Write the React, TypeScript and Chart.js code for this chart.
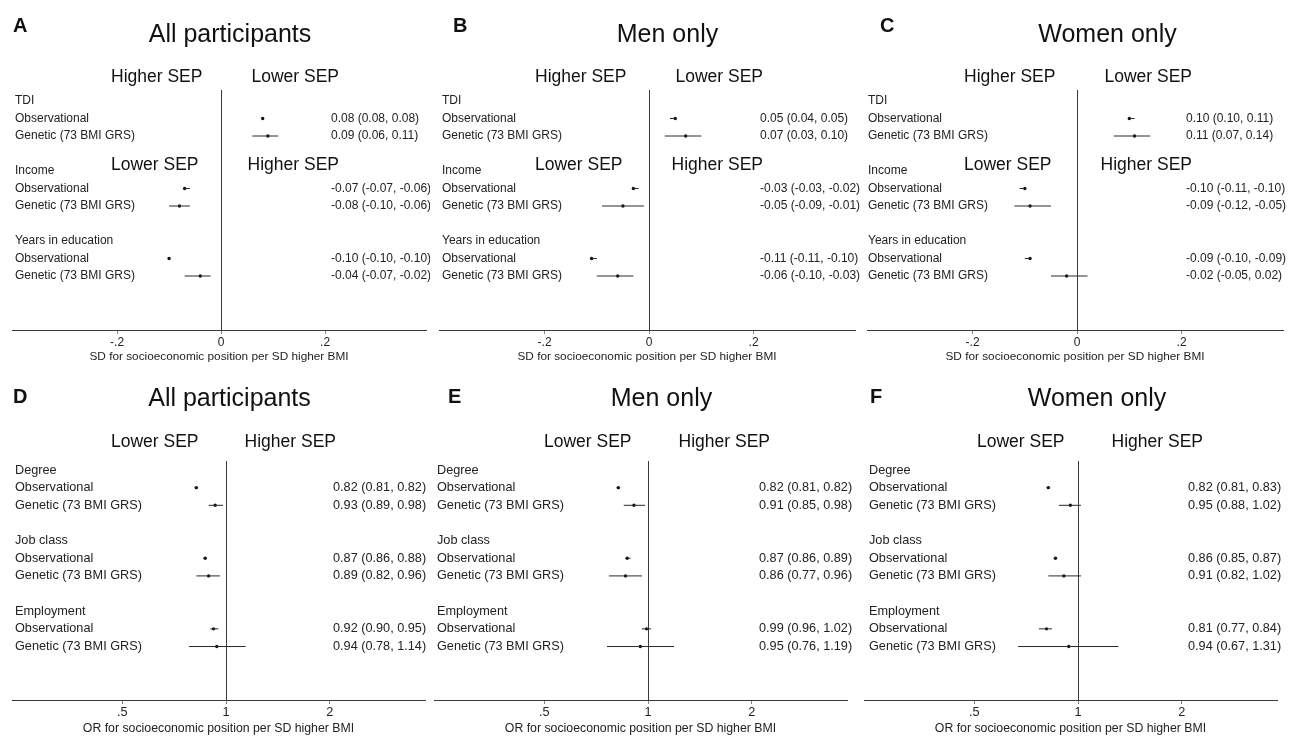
import React, { useEffect, useRef } from "react";
import { Chart, registerables } from "chart.js";

Chart.register(...registerables);

// ---------- data ----------
const PANEL_LETTERS = ["A", "B", "C", "D", "E", "F"];
const PANEL_TITLES = ["All participants", "Men only", "Women only", "All participants", "Men only", "Women only"];
const TOP_CATEGORIES = ["TDI", "Income", "Years in education"];
const BOTTOM_CATEGORIES = ["Degree", "Job class", "Employment"];
const METHODS = ["Observational", "Genetic (73 BMI GRS)"];

const TOP_TICKS = [-0.2, 0, 0.2];
const TOP_TICK_LABELS = ["-.2", "0", ".2"];
const BOTTOM_TICKS = [0.5, 1, 2];
const BOTTOM_TICK_LABELS = [".5", "1", "2"];
const TOP_AXIS_TITLE = "SD for socioeconomic position per SD higher BMI";
const BOTTOM_AXIS_TITLE = "OR for socioeconomic position per SD higher BMI";
const TOP_HEADERS = ["Higher SEP", "Lower SEP"];
const TOP_MID_HEADERS = ["Lower SEP", "Higher SEP"];
const BOTTOM_HEADERS = ["Lower SEP", "Higher SEP"];

// order: cat1 obs, cat1 gen, cat2 obs, cat2 gen, cat3 obs, cat3 gen
const A_EST = [0.08, 0.09, -0.07, -0.08, -0.1, -0.04];
const A_LO = [0.08, 0.06, -0.07, -0.1, -0.1, -0.07];
const A_HI = [0.08, 0.11, -0.06, -0.06, -0.1, -0.02];

const B_EST = [0.05, 0.07, -0.03, -0.05, -0.11, -0.06];
const B_LO = [0.04, 0.03, -0.03, -0.09, -0.11, -0.1];
const B_HI = [0.05, 0.1, -0.02, -0.01, -0.1, -0.03];

const C_EST = [0.1, 0.11, -0.1, -0.09, -0.09, -0.02];
const C_LO = [0.1, 0.07, -0.11, -0.12, -0.1, -0.05];
const C_HI = [0.11, 0.14, -0.1, -0.05, -0.09, 0.02];

const D_EST = [0.82, 0.93, 0.87, 0.89, 0.92, 0.94];
const D_LO = [0.81, 0.89, 0.86, 0.82, 0.9, 0.78];
const D_HI = [0.82, 0.98, 0.88, 0.96, 0.95, 1.14];

const E_EST = [0.82, 0.91, 0.87, 0.86, 0.99, 0.95];
const E_LO = [0.81, 0.85, 0.86, 0.77, 0.96, 0.76];
const E_HI = [0.82, 0.98, 0.89, 0.96, 1.02, 1.19];

const F_EST = [0.82, 0.95, 0.86, 0.91, 0.81, 0.94];
const F_LO = [0.81, 0.88, 0.85, 0.82, 0.77, 0.67];
const F_HI = [0.83, 1.02, 0.87, 1.02, 0.84, 1.31];

const PANEL_DATA = [
  { est: A_EST, lo: A_LO, hi: A_HI },
  { est: B_EST, lo: B_LO, hi: B_HI },
  { est: C_EST, lo: C_LO, hi: C_HI },
  { est: D_EST, lo: D_LO, hi: D_HI },
  { est: E_EST, lo: E_LO, hi: E_HI },
  { est: F_EST, lo: F_LO, hi: F_HI },
];

// ---------- layout / style ----------
const FONT = "'Liberation Sans', Arial, Helvetica, sans-serif";
const TOP_X_RANGE = { min: -0.402, max: 0.394 };
const BOTTOM_X_RANGE = { min: 0.239, max: 3.784 };

const LAYOUT = [
  { x: 0, y: 0, w: 430, h: 368, padL: 12, padR: 2, padT: 90, axisH: 38, yMin: -0.629, yMax: 13.086, letterX: 13, letterY: 32, titleX: 230, titleY: 41.5, hdrL: 111, hdrR: 339, hdrY: 81.5, midY: 169.5, labelX: 15, valueX: 331, fs: 12, titlePad: 4 },
  { x: 430, y: 0, w: 430, h: 368, padL: 9, padR: 5, padT: 90, axisH: 38, yMin: -0.629, yMax: 13.086, letterX: 23, letterY: 32, titleX: 237.5, titleY: 41.5, hdrL: 105, hdrR: 333, hdrY: 81.5, midY: 169.5, labelX: 12, valueX: 330, fs: 12, titlePad: 4 },
  { x: 860, y: 0, w: 430, h: 368, padL: 7, padR: 7, padT: 90, axisH: 38, yMin: -0.629, yMax: 13.086, letterX: 20, letterY: 32, titleX: 247.5, titleY: 41.5, hdrL: 104, hdrR: 332, hdrY: 81.5, midY: 169.5, labelX: 8, valueX: 326, fs: 12, titlePad: 4 },
  { x: 0, y: 368, w: 430, h: 369, padL: 12, padR: 5, padT: 93, axisH: 37, yMin: -0.51, yMax: 13.03, letterX: 13, letterY: 35, titleX: 229.5, titleY: 38, hdrL: 111, hdrR: 336, hdrY: 79, midY: 0, labelX: 15, valueX: 333, fs: 12.7, titlePad: 1.5 },
  { x: 430, y: 368, w: 430, h: 369, padL: 4, padR: 13, padT: 93, axisH: 37, yMin: -0.51, yMax: 13.03, letterX: 18, letterY: 35, titleX: 231.5, titleY: 38, hdrL: 114, hdrR: 340, hdrY: 79, midY: 0, labelX: 7, valueX: 329, fs: 12.7, titlePad: 1.5 },
  { x: 860, y: 368, w: 430, h: 369, padL: 4, padR: 13, padT: 93, axisH: 37, yMin: -0.51, yMax: 13.03, letterX: 10, letterY: 35, titleX: 237, titleY: 38, hdrL: 117, hdrR: 343, hdrY: 79, midY: 0, labelX: 9, valueX: 328, fs: 12.7, titlePad: 1.5 },
];

const rowOf = (i: number) => Math.floor(i / 2) * 4 + 1 + (i % 2);
const catRow = (c: number) => c * 4;

function Panel({ idx }: { idx: number }) {
  const ref = useRef<HTMLCanvasElement>(null);
  useEffect(() => {
    const L = LAYOUT[idx];
    const D = PANEL_DATA[idx];
    const isTop = idx < 3;
    const cats = isTop ? TOP_CATEGORIES : BOTTOM_CATEGORIES;
    const ticks = isTop ? TOP_TICKS : BOTTOM_TICKS;
    const tickLabels = isTop ? TOP_TICK_LABELS : BOTTOM_TICK_LABELS;
    const range = isTop ? TOP_X_RANGE : BOTTOM_X_RANGE;
    const refValue = isTop ? 0 : 1;

    const ciSets = D.est.map((_, i) => ({
      data: [
        { x: D.lo[i], y: rowOf(i) },
        { x: D.hi[i], y: rowOf(i) },
      ],
      showLine: true,
      borderColor: "#2a2a2a",
      borderWidth: 1,
      pointRadius: 0,
      fill: false,
    }));
    const pointSet = {
      data: D.est.map((e, i) => ({ x: e, y: rowOf(i) })),
      showLine: false,
      pointRadius: 1.7,
      pointBackgroundColor: "#111",
      pointBorderColor: "#111",
      pointBorderWidth: 0,
    };

    const textPlugin = {
      id: "forestText",
      beforeDatasetsDraw(chart: any) {
        const { ctx, chartArea } = chart;
        const xs = chart.scales.x;
        const px = Math.round(xs.getPixelForValue(refValue)) + 0.5;
        ctx.save();
        ctx.strokeStyle = "#3a3a3a";
        ctx.lineWidth = 1;
        ctx.beginPath();
        ctx.moveTo(px, chartArea.top);
        ctx.lineTo(px, chartArea.bottom);
        ctx.stroke();
        ctx.restore();
      },
      afterDraw(chart: any) {
        const { ctx } = chart;
        const ys = chart.scales.y;
        ctx.save();
        // panel letter
        ctx.fillStyle = "#111";
        ctx.textBaseline = "alphabetic";
        ctx.textAlign = "left";
        ctx.font = `bold 20px ${FONT}`;
        ctx.fillText(PANEL_LETTERS[idx], L.letterX, L.letterY);
        // title
        ctx.font = `25px ${FONT}`;
        ctx.textAlign = "center";
        ctx.fillText(PANEL_TITLES[idx], L.titleX, L.titleY);
        // headers
        ctx.font = `17.5px ${FONT}`;
        const hdr = isTop ? TOP_HEADERS : BOTTOM_HEADERS;
        ctx.textAlign = "left";
        ctx.fillText(hdr[0], L.hdrL, L.hdrY);
        ctx.textAlign = "right";
        ctx.fillText(hdr[1], L.hdrR, L.hdrY);
        if (isTop) {
          ctx.textAlign = "left";
          ctx.fillText(TOP_MID_HEADERS[0], L.hdrL, L.midY);
          ctx.textAlign = "right";
          ctx.fillText(TOP_MID_HEADERS[1], L.hdrR, L.midY);
        }
        // row labels
        ctx.fillStyle = "#222";
        ctx.font = `${L.fs}px ${FONT}`;
        ctx.textBaseline = "middle";
        ctx.textAlign = "left";
        cats.forEach((c, ci) => {
          ctx.fillText(c, L.labelX, ys.getPixelForValue(catRow(ci)));
        });
        D.est.forEach((e, i) => {
          const y = ys.getPixelForValue(rowOf(i));
          ctx.fillText(METHODS[i % 2], L.labelX, y);
          const txt = `${e.toFixed(2)} (${D.lo[i].toFixed(2)}, ${D.hi[i].toFixed(2)})`;
          ctx.fillText(txt, L.valueX, y);
        });
        ctx.restore();
      },
    };

    const chart = new Chart(ref.current as HTMLCanvasElement, {
      type: "scatter",
      data: { datasets: [...ciSets, pointSet] as any },
      options: {
        responsive: false,
        animation: false,
        devicePixelRatio: 1,
        layout: { padding: { left: L.padL, right: L.padR, top: L.padT, bottom: 0 } },
        plugins: {
          legend: { display: false },
          tooltip: { enabled: false },
          title: { display: false },
        },
        scales: {
          x: {
            type: isTop ? "linear" : "logarithmic",
            position: "bottom",
            min: range.min,
            max: range.max,
            afterBuildTicks: (s: any) => {
              s.ticks = ticks.map((v) => ({ value: v }));
            },
            afterFit: (s: any) => {
              s.height = L.axisH;
            },
            ticks: {
              autoSkip: false,
              maxRotation: 0,
              padding: 1,
              color: "#222",
              font: { family: FONT, size: L.fs },
              callback: (_v: any, i: number) => tickLabels[i],
            },
            grid: {
              drawOnChartArea: false,
              drawTicks: true,
              tickLength: 4,
              color: "#888",
              tickColor: "#888",
            },
            border: { display: true, color: "#3a3a3a", width: 1 },
            title: {
              display: true,
              text: isTop ? TOP_AXIS_TITLE : BOTTOM_AXIS_TITLE,
              color: "#222",
              font: { family: FONT, size: isTop ? 11.8 : 12.3 },
              padding: { top: 0, bottom: L.titlePad },
            },
          } as any,
          y: {
            type: "linear",
            display: false,
            min: L.yMin,
            max: L.yMax,
            reverse: true,
          },
        },
      },
      plugins: [textPlugin],
    });
    return () => chart.destroy();
  }, [idx]);

  const L = LAYOUT[idx];
  return (
    <canvas
      ref={ref}
      width={L.w}
      height={L.h}
      style={{ position: "absolute", left: L.x, top: L.y, width: L.w, height: L.h }}
    />
  );
}

export default function App() {
  return (
    <div
      style={{
        position: "absolute",
        left: 0,
        top: 0,
        width: 1290,
        height: 737,
        background: "#fff",
        overflow: "hidden",
      }}
    >
      {PANEL_LETTERS.map((_, i) => (
        <Panel key={i} idx={i} />
      ))}
    </div>
  );
}
